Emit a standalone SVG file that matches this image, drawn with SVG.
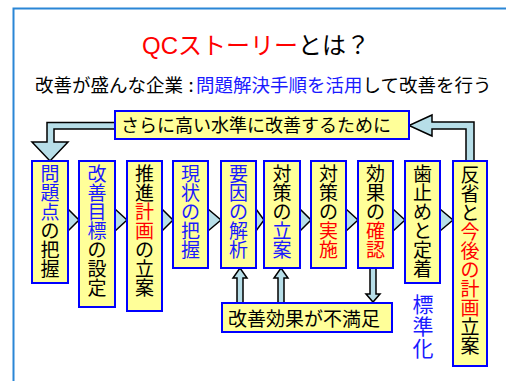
<svg xmlns="http://www.w3.org/2000/svg" width="506" height="381" viewBox="0 0 506 381">
<style>
  text { font-family: "Noto Sans CJK JP", "Liberation Sans", sans-serif; }
  .box { fill: #ffff99; stroke: #0000ff; stroke-width: 2; }
  .arrow { fill: #b7dee8; stroke: #000; stroke-width: 1.5; stroke-linejoin: miter; }
  .vt { font-size: 19px; text-anchor: middle; fill: #000; }
  .b { fill: #1a1aff; }
  .r { fill: #ff0000; }
</style>
<rect x="0" y="0" width="506" height="381" fill="#ffffff"/>
<rect x="13.5" y="8.5" width="600" height="500" fill="#ffffff" stroke="#2a86d6" stroke-width="2"/>

<g id="title">
  <text x="256" y="54" font-size="24" text-anchor="middle"><tspan fill="#ff0000" font-family="Liberation Sans, sans-serif">QC</tspan><tspan fill="#ff0000">ストーリー</tspan><tspan fill="#000">とは？</tspan></text>
</g>
<g id="subtitle">
  <text x="35" y="92" font-size="18.5" fill="#000">改善が盛んな企業</text>
  <text x="191" y="92" font-size="18.5" fill="#000" text-anchor="middle">:</text>
  <text x="196" y="92" font-size="18.5"><tspan fill="#1a1aff">問題解決手順を活用</tspan><tspan fill="#000">して改善を行う</tspan></text>
</g>

<g id="connectors">
  <path class="arrow" d="M115,122.5 H47 V142 H32 L50,161 L68,142 H54 V129 H115 Z"/>
  <path class="arrow" d="M466,161 V129 H432 V136 L409,125.5 L432,115 V122 H474 V161 Z"/>
  <path class="arrow" d="M68,209 L79,220 L68,231 Z"/>
  <path class="arrow" d="M115,209 L127,220 L115,231 Z"/>
  <path class="arrow" d="M162,209 L173,220 L162,231 Z"/>
  <path class="arrow" d="M208,209 L221,220 L208,231 Z"/>
  <path class="arrow" d="M256,209 L264,220 L256,231 Z"/>
  <path class="arrow" d="M300,209 L311,220 L300,231 Z"/>
  <path class="arrow" d="M346,209 L358,220 L346,231 Z"/>
  <path class="arrow" d="M393,209 L405,220 L393,231 Z"/>
  <path class="arrow" d="M440,209 L453,220 L440,231 Z"/>
  <path class="arrow" d="M237,303 V278 H233 L240,268 L247,278 H243 V303 Z"/>
  <path class="arrow" d="M278,303 V278 H274 L281,268 L288,278 H284 V303 Z"/>
  <path class="arrow" d="M370,268 V294 H366 L373,302 L380,294 H376 V268 Z"/>
</g>

<g id="n-top">
  <rect class="box" x="115" y="111" width="294" height="28"/>
  <text x="121" y="131.5" font-size="18" fill="#000">さらに高い水準に改善するために</text>
</g>

<g id="n1">
  <rect class="box" x="32" y="161" width="36" height="122"/>
  <text class="vt"><tspan class="b" x="50 50 50" y="181 200 219">問題点</tspan><tspan x="50 50 50" y="238 257 276">の把握</tspan></text>
</g>
<g id="n2">
  <rect class="box" x="79" y="161" width="36" height="146"/>
  <text class="vt"><tspan class="b" x="97 97 97 97" y="181 200 219 238">改善目標</tspan><tspan x="97 97 97" y="257 276 295">の設定</tspan></text>
</g>
<g id="n3">
  <rect class="box" x="127" y="161" width="35" height="150"/>
  <text class="vt"><tspan x="144.5 144.5" y="181 200">推進</tspan><tspan class="r" x="144.5 144.5" y="219 238">計画</tspan><tspan x="144.5 144.5 144.5" y="257 276 295">の立案</tspan></text>
</g>
<g id="n4">
  <rect class="box" x="173" y="161" width="35" height="107"/>
  <text class="vt"><tspan class="b" x="190.5 190.5 190.5 190.5 190.5" y="181 200 219 238 257">現状の把握</tspan></text>
</g>
<g id="n5">
  <rect class="box" x="221" y="161" width="35" height="107"/>
  <text class="vt"><tspan class="b" x="238.5 238.5 238.5 238.5 238.5" y="181 200 219 238 257">要因の解析</tspan></text>
</g>
<g id="n6">
  <rect class="box" x="264" y="161" width="36" height="107"/>
  <text class="vt"><tspan x="282 282 282" y="181 200 219">対策の</tspan><tspan class="b" x="282 282" y="238 257">立案</tspan></text>
</g>
<g id="n7">
  <rect class="box" x="311" y="161" width="35" height="107"/>
  <text class="vt"><tspan x="328.5 328.5 328.5" y="181 200 219">対策の</tspan><tspan class="r" x="328.5 328.5" y="238 257">実施</tspan></text>
</g>
<g id="n8">
  <rect class="box" x="358" y="161" width="35" height="107"/>
  <text class="vt"><tspan x="375.5 375.5 375.5" y="181 200 219">効果の</tspan><tspan class="r" x="375.5 375.5" y="238 257">確認</tspan></text>
</g>
<g id="n9">
  <rect class="box" x="405" y="161" width="35" height="122"/>
  <text class="vt"><tspan x="422.5 422.5 422.5 422.5 422.5 422.5" y="181 200 219 238 257 276">歯止めと定着</tspan></text>
</g>
<g id="n10">
  <rect class="box" x="453" y="161" width="34" height="205"/>
  <text class="vt"><tspan x="470 470 470" y="182 201 220">反省と</tspan><tspan class="r" x="470 470 470 470 470" y="239 258 277 296 315">今後の計画</tspan><tspan x="470 470" y="334 353">立案</tspan></text>
</g>

<g id="n-bottom">
  <rect class="box" x="222" y="303" width="170" height="29"/>
  <text x="228" y="326" font-size="19" fill="#000">改善効果が不満足</text>
</g>

<g id="n-std">
  <text font-size="21" fill="#1a1aff" text-anchor="middle" x="423 423 423" y="312 334 356">標準化</text>
</g>
</svg>
